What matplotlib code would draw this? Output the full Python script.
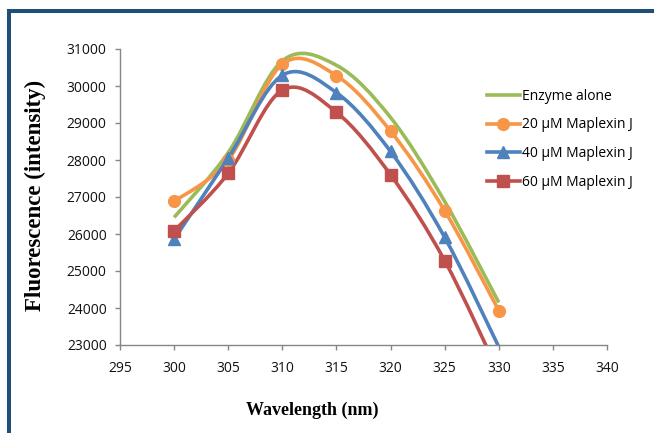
import matplotlib
matplotlib.use('Agg')
import numpy as np
import matplotlib.pyplot as plt
from matplotlib.path import Path
from matplotlib.patches import PathPatch
from matplotlib.lines import Line2D

wavelength = [300, 305, 310, 315, 320, 325, 330]
enzyme_alone = [26450, 28200, 30680, 30560, 29150, 26880, 24150]
maplexin_20 = [26880, 28000, 30590, 30280, 28780, 26630, 23930]
maplexin_40 = [25860, 28050, 30290, 29820, 28230, 25910, 22950]
maplexin_60 = [26080, 27640, 29890, 29290, 27600, 25280, 22250]
series_labels = ['Enzyme alone', '20 µM Maplexin J', '40 µM Maplexin J', '60 µM Maplexin J']
x_ticks = list(range(295, 345, 5))
y_ticks = list(range(23000, 32000, 1000))

colors = ['#9BBB59', '#F79646', '#4F81BD', '#C0504D']
markers = [None, 'o', '^', 's']
msizes = [0, 8.5, 8.5, 8]


def smooth_path(xs, ys):
    pts = list(zip(xs, ys))
    n = len(pts)
    verts = [pts[0]]
    codes = [Path.MOVETO]
    for i in range(n - 1):
        p0 = pts[i - 1] if i > 0 else pts[i]
        p1 = pts[i]
        p2 = pts[i + 1]
        p3 = pts[i + 2] if i + 2 < n else pts[i + 1]
        c1 = (p1[0] + (p2[0] - p0[0]) / 6, p1[1] + (p2[1] - p0[1]) / 6)
        c2 = (p2[0] - (p3[0] - p1[0]) / 6, p2[1] - (p3[1] - p1[1]) / 6)
        verts += [c1, c2, p2]
        codes += [Path.CURVE4] * 3
    return Path(verts, codes)


W, H = 654, 433
fig = plt.figure(figsize=(W / 100, H / 100), dpi=100)
ax = fig.add_axes([120 / W, 1 - 345 / H, (607 - 120) / W, (345 - 49) / H])

ymin, ymax = 23000, 31000
ax.set_xlim(295, 340)
ax.set_ylim(ymin, ymax)

all_series = [enzyme_alone, maplexin_20, maplexin_40, maplexin_60]
handles = []
for vals, col, mk, ms, lab in zip(all_series, colors, markers, msizes, series_labels):
    patch = PathPatch(smooth_path(wavelength, vals), facecolor='none', edgecolor=col,
                      lw=2.6, capstyle='butt', joinstyle='round')
    ax.add_patch(patch)
    if mk is not None:
        arr = np.ma.masked_less(np.array(vals, dtype=float), ymin)
        ax.plot(wavelength, arr, linestyle='none', marker=mk, ms=ms, color=col,
                markeredgecolor=col)
    handles.append(Line2D([], [], color=col, lw=2.6, marker=mk, ms=ms if mk else 0,
                          markeredgecolor=col))

ax.set_xticks(x_ticks)
ax.set_yticks(y_ticks)
for s in ['top', 'right']:
    ax.spines[s].set_visible(False)
for s in ['left', 'bottom']:
    ax.spines[s].set_color('#868686')
    ax.spines[s].set_linewidth(1)
ax.tick_params(direction='out', length=3.6, width=1, color='#868686',
               labelsize=10, labelcolor='#111111')
ax.tick_params(axis='y', pad=6)
ax.tick_params(axis='x', pad=8)
for lab in ax.get_xticklabels() + ax.get_yticklabels():
    lab.set_fontfamily('Open Sans')

leg = fig.legend(handles, series_labels, loc='upper left',
                 bbox_to_anchor=(487 / W, 1 - 88.5 / H), frameon=False,
                 borderpad=0, borderaxespad=0, handlelength=2.35, handletextpad=0.2,
                 labelspacing=1.0, prop={'family': 'Open Sans', 'size': 10})

fig.text(35 / W, 1 - 195 / H, 'Fluorescence (intensity)', rotation=90,
         ha='center', va='center', fontsize=16.5, fontweight='bold',
         family='Liberation Serif')
fig.text(312 / W, 1 - 410 / H, 'Wavelength (nm)', ha='center', va='center',
         fontsize=13, fontweight='bold', family='Liberation Serif')

border = '#1F4E79'
fig.add_artist(Line2D([7 / W, 1.0], [1 - 11 / H, 1 - 11 / H], color=border,
                      lw=2.9, solid_capstyle='butt', transform=fig.transFigure))
fig.add_artist(Line2D([9 / W, 9 / W], [1 - 9 / H, 0.0], color=border,
                      lw=2.9, solid_capstyle='butt', transform=fig.transFigure))

fig.savefig('out.png', dpi=100)
